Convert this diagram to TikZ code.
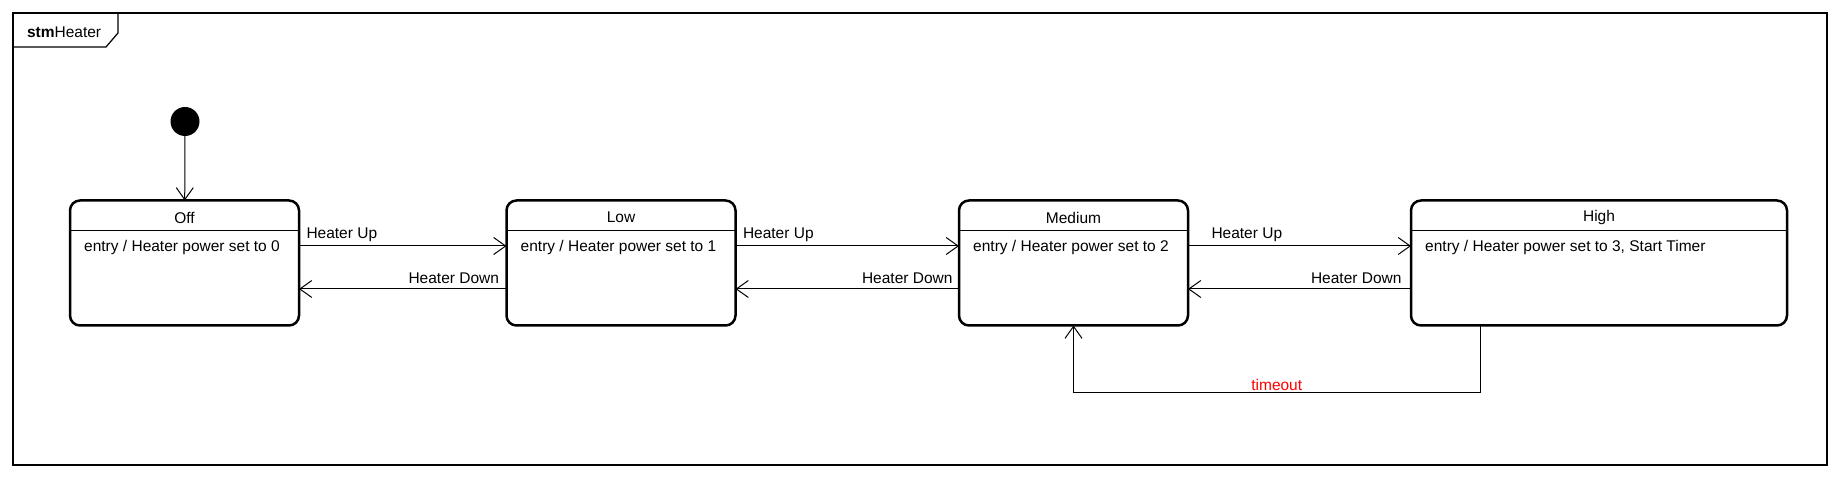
\documentclass[tikz,border=0pt]{standalone}
\usepackage{fontspec}
\setmainfont{Liberation Sans}
\usetikzlibrary{arrows.meta}
\begin{document}
\begin{tikzpicture}[
    x=1pt, y=-1pt,
    font=\fontsize{15.5}{18}\selectfont,
    node distance=450pt,
    frame/.style={draw, line width=1.2pt},
    state/.style={rectangle, draw, line width=2.5pt, rounded corners=10pt, minimum width=229pt, minimum height=125pt, outer sep=0pt},
    title/.style={inner sep=0pt},
    entry/.style={anchor=west, inner sep=0pt},
    sep/.style={line width=1pt},
    initial/.style={circle, fill=black, minimum size=29pt, inner sep=0pt},
    trans/.style={-{Straight Barb[length=12pt,width=17pt]}, line width=1pt},
    guard/.style={text=red, inner sep=1pt}
]
    \useasboundingbox (0,0) rectangle (1840,478);

    % frame
    \draw[frame] (13,13) rectangle (1827,465);
    \draw[frame] (13,47) -- (106,47) -- (118,33) -- (118,13);
    \node[anchor=west] (frametitle) at (23.5,32) {\textbf{stm}Heater};

    % states
    \node[initial] (init) at (185,121.5) {};
    \node[state] (off) at (184.5,263) {};
    \node[state, right of=off, node distance=436.5pt] (low) {};
    \node[state, right of=low, node distance=452.5pt] (medium) {};
    \node[state, right of=medium, node distance=525.5pt, minimum width=376pt] (high) {};

    \foreach \s/\t/\e in {off/Off/0, low/Low/1, medium/Medium/2, high/High/{3, Start Timer}} {
        \node[title] (\s title) at ([yshift=-17pt]\s.north) {\t};
        \draw[sep] ([yshift=-30pt]\s.north west) -- ([yshift=-30pt]\s.north east);
        \node[entry] (\s entry) at ([xshift=14pt,yshift=-47pt]\s.north west) {entry / Heater power set to \e};
    }

    % transitions
    \draw[trans] (init) -- (off);
    \draw[trans] ([yshift=17pt]off.east) -- node[pos=0, anchor=south west, xshift=7pt, yshift=4pt, inner sep=0pt] {Heater Up} ([yshift=17pt]low.west);
    \draw[trans] ([yshift=-26pt]low.west) -- node[pos=0, anchor=south east, xshift=-7pt, yshift=5pt, inner sep=0pt] {Heater Down} ([yshift=-26pt]off.east);
    \draw[trans] ([yshift=17pt]low.east) -- node[pos=0, anchor=south west, xshift=7pt, yshift=4pt, inner sep=0pt] {Heater Up} ([yshift=17pt]medium.west);
    \draw[trans] ([yshift=-26pt]medium.west) -- node[pos=0, anchor=south east, xshift=-6pt, yshift=5pt, inner sep=0pt] {Heater Down} ([yshift=-26pt]low.east);
    \draw[trans] ([yshift=17pt]medium.east) -- node[pos=0, anchor=south west, xshift=23pt, yshift=4pt, inner sep=0pt] {Heater Up} ([yshift=17pt]high.west);
    \draw[trans] ([yshift=-26pt]high.west) -- node[pos=0, anchor=south east, xshift=-9pt, yshift=5pt, inner sep=0pt] {Heater Down} ([yshift=-26pt]medium.east);
    \draw[trans] ([xshift=-119pt]high.south) -- ++(0,67) -| node[pos=0.25, above, guard] {timeout} (medium.south);
\end{tikzpicture}
\end{document}
